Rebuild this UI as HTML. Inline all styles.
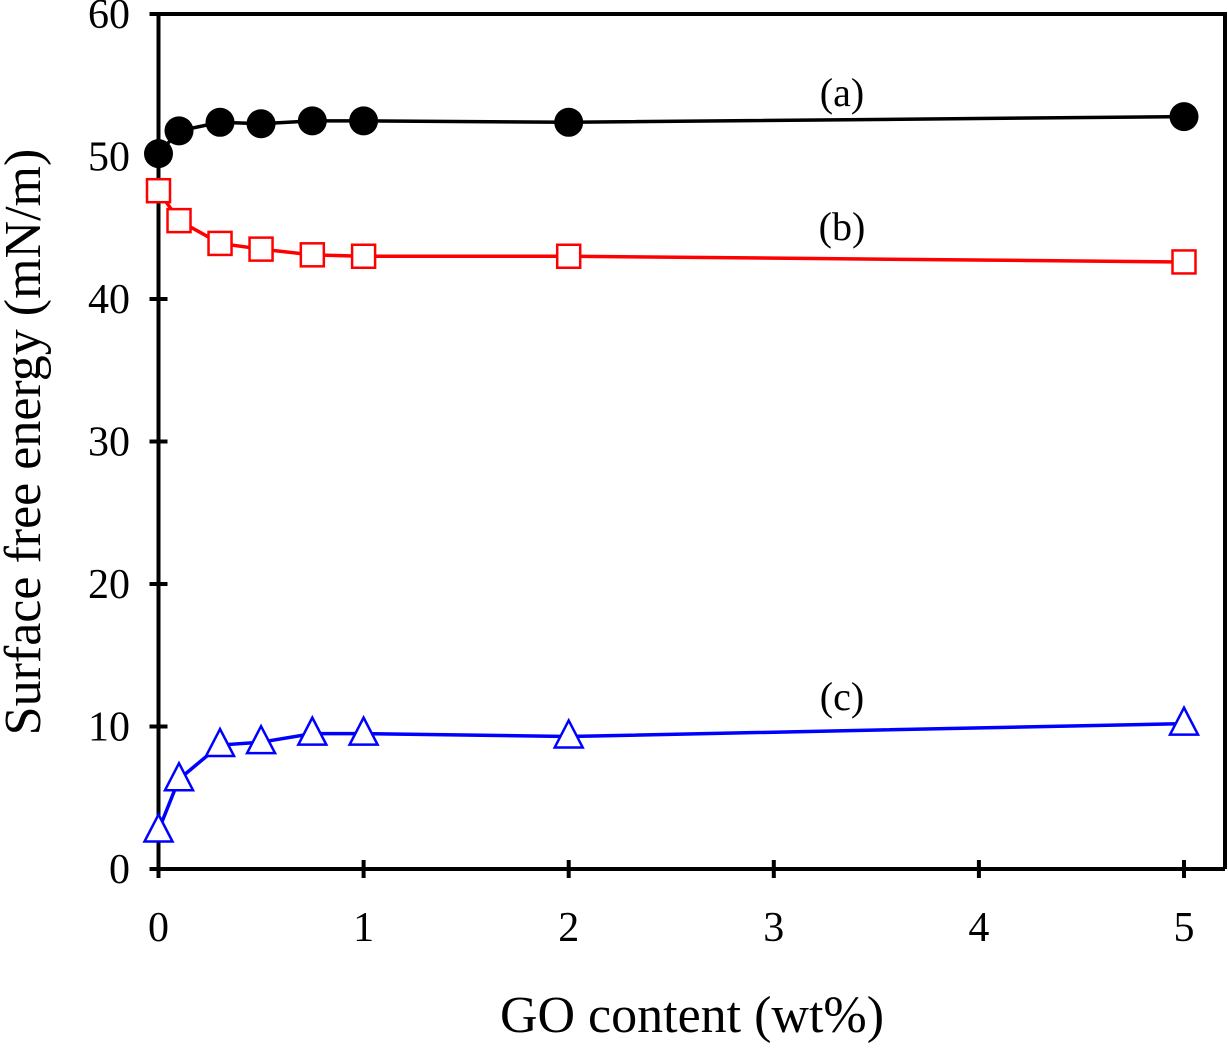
<!DOCTYPE html>
<html><head><meta charset="utf-8"><style>
html,body{margin:0;padding:0;background:#fff;}
svg text{font-family:"Liberation Serif",serif;}
</style></head><body>
<svg id="chart" width="1228" height="1043" viewBox="0 0 1228 1043" xmlns="http://www.w3.org/2000/svg">
<g id="axes"></g>
<g id="series"></g>
<text x="692" y="1032" font-size="52" text-anchor="middle">GO content (wt%)</text>
<text transform="translate(40,442) rotate(-90)" font-size="52" text-anchor="middle">Surface free energy (mN/m)</text>
<text x="842" y="106" font-size="40" text-anchor="middle">(a)</text>
<text x="842" y="240" font-size="40" text-anchor="middle">(b)</text>
<text x="842" y="710" font-size="40" text-anchor="middle">(c)</text>
</svg>
<script>
const xValues=[0,0.1,0.3,0.5,0.75,1,2,5];
const seriesA=[50.2,51.8,52.4,52.3,52.5,52.5,52.4,52.8];
const seriesB=[47.6,45.5,43.9,43.5,43.1,43.0,43.0,42.6];
const seriesC=[2.7,6.3,8.7,8.9,9.5,9.5,9.3,10.2];
const xTicks=[0,1,2,3,4,5];
const yTicks=[0,10,20,30,40,50,60];
const NS="http://www.w3.org/2000/svg";
const X=v=>158.5+v*205.1;
const Y=v=>869-v*14.25;
function mk(tag,attrs,parent){const e=document.createElementNS(NS,tag);for(const k in attrs)e.setAttribute(k,attrs[k]);parent.appendChild(e);return e;}
const axes=document.getElementById('axes');
let f=mk('path',{d:`M${X(0)} ${Y(60)} H1225 V${Y(0)}`,fill:'none',stroke:'#000','stroke-width':4},axes);


let xa=mk('line',{x1:X(0)-9,x2:1225,y1:Y(0),y2:Y(0),stroke:'#000','stroke-width':4},axes);


let ya=mk('line',{x1:X(0),x2:X(0),y1:Y(60),y2:Y(0)+9,stroke:'#000','stroke-width':4},axes);


xTicks.forEach(t=>{
 let l=mk('line',{x1:X(t),x2:X(t),y1:Y(0)-9,y2:Y(0)+9,stroke:'#000','stroke-width':4},axes);
 
 
 let tx=mk('text',{x:X(t),y:941,'font-size':42,'text-anchor':'middle'},axes);tx.textContent=t;
 
 
});
yTicks.forEach(t=>{
 let l=mk('line',{x1:X(0)-9,x2:X(0)+9,y1:Y(t),y2:Y(t),stroke:'#000','stroke-width':4},axes);
 
 
 let tx=mk('text',{x:130,y:Y(t)+14,'font-size':42,'text-anchor':'end'},axes);tx.textContent=t;
 
 
});
const sg=document.getElementById('series');
function line(vals,color,name){
 let p=mk('polyline',{points:vals.map((v,i)=>X(xValues[i])+','+Y(v)).join(' '),fill:'none',stroke:color,'stroke-width':3.5},sg);
 
 
}
line(seriesA,'#000','line-a');line(seriesB,'#f00','line-b');line(seriesC,'#00f','line-c');
seriesA.forEach((v,i)=>{let c=mk('circle',{cx:X(xValues[i]),cy:Y(v),r:14.5,fill:'#000'},sg);
 
 });
seriesB.forEach((v,i)=>{let r=mk('rect',{x:X(xValues[i])-11.5,y:Y(v)-11.5,width:23,height:23,fill:'#fff',stroke:'#f00','stroke-width':2.5},sg);
 
 });
seriesC.forEach((v,i)=>{const x=X(xValues[i]),y=Y(v);
 let t=mk('polygon',{points:`${x},${y-16} ${x-14},${y+11} ${x+14},${y+11}`,fill:'#fff',stroke:'#00f','stroke-width':2.5},sg);
 
 });
</script>
</body></html>
